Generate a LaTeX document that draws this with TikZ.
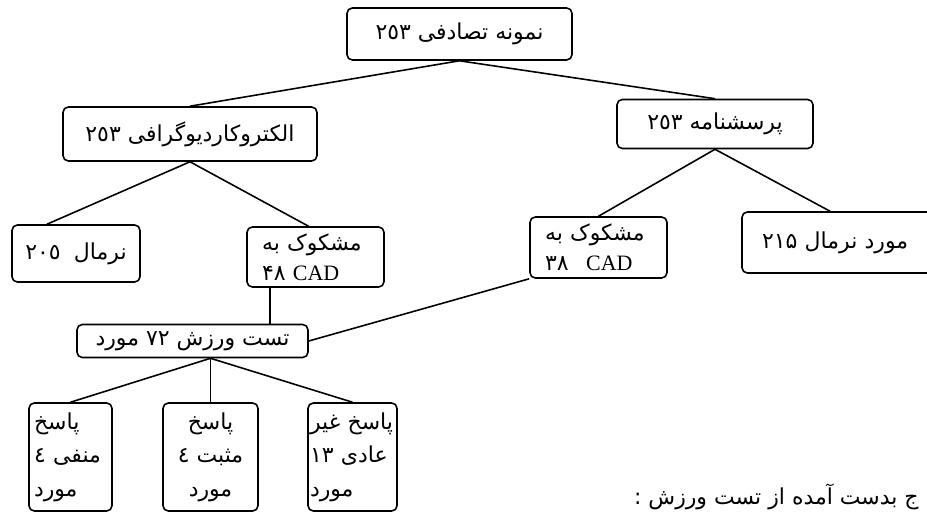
\documentclass[tikz,border=0pt]{standalone}
\usepackage{fontspec}
\setmainfont{Liberation Serif}
\newfontfamily\arabicfont[Script=Arabic]{DejaVu Sans}
\TeXXeTstate=1
\usetikzlibrary{positioning,calc}

\begin{document}
\begin{tikzpicture}[x=0.02cm,y=-0.02cm,
		box/.style={draw,line width=0.9pt,rounded corners=3pt,inner sep=0pt,
			font=\arabicfont\fontsize{12.5}{17}\selectfont},
		leaf/.style={box,font=\arabicfont\fontsize{12.5}{19}\selectfont},
		link/.style={line width=0.9pt}]
		\useasboundingbox (0,0) rectangle (927,513);
		\clip (0,0) rectangle (927,513);
		% levels of the tree
		\node[box,minimum width=4.5cm,minimum height=1.04cm] (sample) at (459.5,34) {\beginR نمونه تصادفی ٢٥٣\endR};
		\node[box,minimum width=5.08cm,minimum height=1.08cm] (ecg) at (190,134) {\beginR الکتروکاردیوگرافی ٢٥٣\endR};
		\node[box,minimum width=3.92cm,minimum height=0.98cm] (quest) at (715,124) {\beginR پرسشنامه ٢٥٣\endR};
		\node[box,minimum width=2.56cm,minimum height=1.14cm] (normA) at (76,253.5) {\beginR نرمال\hspace{0.6em}٢٠٥\endR};
		\node[box,minimum height=1.2cm,inner xsep=0.3cm,text width=2.14cm,align=left] (cadA) at (315.5,257)
			{\beginR مشکوک به\endR\\ \beginR\beginL{\rmfamily CAD}\endL{} ۴۸\endR};
		\node[box,minimum height=1.22cm,inner xsep=0.3cm,text width=2.14cm,align=left] (cadB) at (598.5,247.5)
			{\beginR مشکوک به\endR\\ \beginR\beginL{\rmfamily CAD}\endL{}\hspace{0.8em}۳۸\endR};
		\node[box,minimum height=1.22cm,inner xsep=0.4cm,text width=3.16cm,align=left] (normB) at (841,242.5)
			{\beginR مورد نرمال ۲۱۵\endR};
		\node[box,minimum width=4.62cm,minimum height=0.66cm] (exer) at (192.5,341) {\beginR تست ورزش ۷۲ مورد\endR};
		% answers of the exercise test
		\node[leaf,minimum height=2.16cm,inner xsep=0.1cm,text width=1.46cm,align=left] (neg) at (70.5,457)
			{\beginR پاسخ\endR\\ \beginR منفی ٤\endR\\ \beginR مورد\endR};
		\node[leaf,minimum width=1.9cm,minimum height=2.16cm,align=center] (pos) at (210.5,457)
			{\beginR پاسخ\endR\\ \beginR مثبت ٤\endR\\ \beginR مورد\endR};
		\node[leaf,minimum height=2.16cm,inner xsep=0.04cm,text width=1.7cm,align=left] (abn) at (352.5,457)
			{\beginR پاسخ غیر\endR\\ \beginR عادی ۱۳\endR\\ \beginR مورد\endR};
		\node[anchor=east,inner sep=0pt,font=\arabicfont\fontsize{12.5}{14}\selectfont] (title) at (919,497)
			{\beginR ج بدست آمده از تست ورزش :\endR};
		% connectors
		\draw[link] (sample.south) -- (ecg.north);
		\draw[link] (sample.south) -- (quest.north);
		\draw[link] (ecg.south) -- ($(normA.north)+(-29,0)$);
		\draw[link] (ecg.south) -- ($(cadA.north)+(-7,0)$);
		\draw[link] (quest.south) -- (cadB.north);
		\draw[link] (quest.south) -- ($(normB.north)+(-11,0)$);
		\draw[link] ($(cadA.south)+(-45.5,0)$) coordinate (drop) -- (drop |- exer.north);
		\draw[link] (cadB.south west) -- (exer.east);
		\coordinate (fork) at (pos.north |- exer.south);
		\draw[link] (fork) -- (neg.north);
		\draw[link] (fork) -- (pos.north);
		\draw[link] (fork) -- (abn.north);
	\end{tikzpicture}
\end{document}
